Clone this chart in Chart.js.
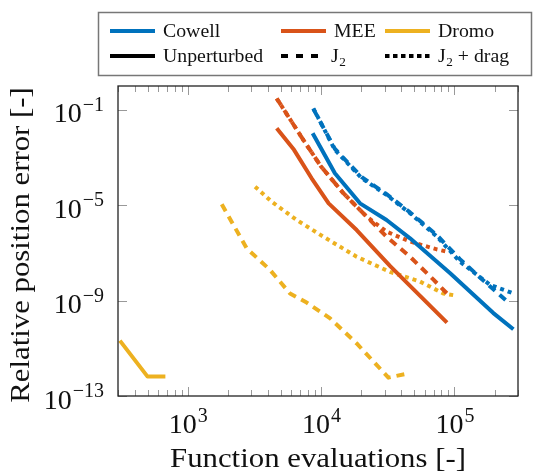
<!DOCTYPE html>
<html>
<head>
<meta charset="utf-8">
<script src="https://cdn.jsdelivr.net/npm/chart.js@4"></script>
<style>
  body { margin: 0; background: #fff; }
  #wrap { position: relative; width: 534px; height: 475px; }
</style>
</head>
<body>
<div id="wrap">
  <canvas id="chart"></canvas>
</div>
<script>
// Colours (MATLAB default palette)
const BLUE = '#0072BD', ORANGE = '#D95319', YELLOW = '#EDB120';

// Cowell
const cowellUnpX = [8650, 12700, 19600, 31000, 46500, 93000, 196000, 277000];
const cowellUnpY = [1.05e-2, 2.2e-4, 1.2e-5, 2.4e-6, 4.1e-7, 1.4e-8, 3.0e-10, 6.3e-11];
const cowellJ2X = [8750, 12700, 20200, 31000, 46500, 74000, 110000, 170000, 245000];
const cowellJ2Y = [0.11, 2.3e-3, 1.5e-4, 2.9e-5, 5.0e-6, 5.5e-7, 5.5e-8, 6e-9, 1.0e-9];
const cowellDragX = [8750, 12700, 20200, 31000, 46500, 74000, 110000, 185000, 277000];
const cowellDragY = [0.116, 2.1e-3, 1.35e-4, 2.7e-5, 4.6e-6, 4.8e-7, 4.3e-8, 4.6e-9, 2.0e-9];

// MEE
const meeUnpX = [4650, 6270, 8500, 11400, 18500, 33000, 88000];
const meeUnpY = [1.7e-2, 2.1e-3, 1.35e-4, 1.2e-5, 9.1e-7, 2.8e-8, 1.2e-10];
const meeJ2X = [4650, 7360, 10000, 14700, 22000, 31000, 46500, 70000, 88000];
const meeJ2Y = [0.3, 5.5e-3, 4.2e-4, 3.2e-5, 3.3e-6, 4.8e-7, 6.9e-8, 7.4e-9, 2.0e-9];
const meeDragX = [4650, 7360, 10000, 14700, 22000, 31000, 46500, 74000, 90000];
const meeDragY = [0.3, 5.5e-3, 4.2e-4, 3.2e-5, 3.3e-6, 7.8e-7, 3.0e-7, 1.4e-7, 1.1e-7];

// Dromo
const dromoUnpX = [310, 500, 680];
const dromoUnpY = [2.1e-11, 6.5e-13, 6.5e-13];
const dromoJ2X = [1800, 2770, 4140, 5850, 7800, 11700, 18500, 32000, 42700];
const dromoJ2Y = [1.1e-5, 1.55e-7, 1.95e-8, 2.0e-9, 8.3e-10, 1.8e-10, 1.6e-11, 5.9e-13, 8.3e-13];
const dromoDragX = [3200, 4270, 6560, 10400, 18500, 32900, 55200, 82600, 98000];
const dromoDragY = [6.0e-5, 1.4e-5, 2.4e-6, 4.8e-7, 6.9e-8, 1.6e-8, 6.3e-9, 2.0e-9, 1.7e-9];

// axis ticks
const xMajor = [1e3, 1e4, 1e5];
const yMajor = [1e-1, 1e-5, 1e-9, 1e-13];

const DASHED = [8, 6], DOTTED = [4, 4];

function pts(xs, ys) { return xs.map((x, i) => ({ x: x, y: ys[i] })); }
function series(label, xs, ys, color, dash) {
  return {
    label: label, data: pts(xs, ys), borderColor: color, backgroundColor: color,
    borderWidth: 4, borderDash: dash || [], pointRadius: 0, showLine: true,
    tension: 0, borderCapStyle: 'butt', borderJoinStyle: 'round'
  };
}

const FONT = '"Liberation Serif", serif';

// legend entries: colour = method, dash = perturbation model
const legendRows = [
  [
    { text: 'Cowell', color: BLUE, dash: [], x: 110 },
    { text: 'MEE', color: ORANGE, dash: [], x: 281 },
    { text: 'Dromo', color: YELLOW, dash: [], x: 385 }
  ],
  [
    { text: 'Unperturbed', color: '#000', dash: [], x: 110 },
    { text: 'J', sub: '2', color: '#000', dash: [7, 8], x: 281, len: 39, gap: 11 },
    { text: 'J', sub: '2', after: ' + drag', color: '#000', dash: [4.5, 3.5], x: 385 }
  ]
];

function drawLegend(ctx) {
  ctx.save();
  ctx.fillStyle = '#fff';
  ctx.fillRect(98, 12, 434, 64);
  ctx.strokeStyle = '#777';
  ctx.lineWidth = 1.5;
  ctx.strokeRect(98.5, 12.5, 433, 63);
  const rowsY = [31, 56];
  legendRows.forEach((row, r) => {
    const y = rowsY[r];
    row.forEach(it => {
      const len = it.len || 45;
      ctx.strokeStyle = it.color;
      ctx.lineWidth = 4;
      ctx.setLineDash(it.dash);
      ctx.beginPath();
      ctx.moveTo(it.x, y); ctx.lineTo(it.x + len, y);
      ctx.stroke();
      ctx.setLineDash([]);
      ctx.fillStyle = '#111';
      ctx.textAlign = 'left';
      ctx.textBaseline = 'alphabetic';
      let tx = it.x + len + (it.gap || 8);
      ctx.save();
      ctx.translate(tx, y + 6);
      ctx.scale(1.1, 1);
      ctx.font = '18px ' + FONT;
      ctx.fillText(it.text, 0, 0);
      let cx = ctx.measureText(it.text).width;
      if (it.sub) {
        ctx.font = '12px ' + FONT;
        ctx.fillText(it.sub, cx + 0.5, 4);
        cx += ctx.measureText(it.sub).width + 0.5;
      }
      if (it.after) {
        ctx.font = '18px ' + FONT;
        ctx.fillText(it.after, cx, 0);
      }
      ctx.restore();
    });
  });
  ctx.restore();
}

const axisPlugin = {
  id: 'axisPlugin',
  afterDraw(chart) {
    const ctx = chart.ctx, a = chart.chartArea;
    const xs = chart.scales.x, ys = chart.scales.y;
    ctx.save();
    // tick marks, inside on all sides
    ctx.strokeStyle = '#999';
    ctx.lineWidth = 1;
    ctx.beginPath();
    for (let d = 100; d <= 1e5; d *= 10) {
      for (let m = 1; m <= 9; m++) {
        const v = d * m;
        if (v < 300 || v > 300000) continue;
        const px = Math.round(xs.getPixelForValue(v)) + 0.5;
        const len = m === 1 ? 9 : 6;
        ctx.moveTo(px, a.bottom); ctx.lineTo(px, a.bottom - len);
        ctx.moveTo(px, a.top); ctx.lineTo(px, a.top + len);
      }
    }
    yMajor.forEach(v => {
      const py = Math.round(ys.getPixelForValue(v)) + 0.5;
      ctx.moveTo(a.left, py); ctx.lineTo(a.left + 9, py);
      ctx.moveTo(a.right, py); ctx.lineTo(a.right - 9, py);
    });
    ctx.stroke();
    // frame
    ctx.strokeStyle = '#222';
    ctx.lineWidth = 1.3;
    ctx.strokeRect(a.left, a.top, a.right - a.left, a.bottom - a.top);

    // tick labels 10^n
    ctx.fillStyle = '#111';
    ctx.textBaseline = 'alphabetic';
    const big = '28px ' + FONT, small = '20px ' + FONT;
    xMajor.forEach(v => {
      const e = String(Math.round(Math.log10(v)));
      ctx.font = big; const w1 = ctx.measureText('10').width;
      ctx.font = small; const w2 = ctx.measureText(e).width;
      const px = xs.getPixelForValue(v), x0 = px - (w1 + w2) / 2;
      ctx.textAlign = 'left';
      ctx.font = big; ctx.fillText('10', x0, 433);
      ctx.font = small; ctx.fillText(e, x0 + w1 + 1, 422);
    });
    yMajor.forEach(v => {
      const e = '\u2212' + String(-Math.round(Math.log10(v)));
      const py = ys.getPixelForValue(v);
      ctx.font = small; const w2 = ctx.measureText(e).width;
      ctx.textAlign = 'right';
      ctx.fillText(e, 104, py + 1);
      ctx.font = big; ctx.fillText('10', 104 - w2 - 1, py + 12.5);
    });

    // axis titles (stretched a little to match the wider original face)
    ctx.font = '28px ' + FONT;
    ctx.textAlign = 'center';
    ctx.save();
    ctx.translate((a.left + a.right) / 2, 467);
    ctx.scale(1.1, 1);
    ctx.fillText('Function evaluations [-]', 0, 0);
    ctx.restore();
    ctx.translate(29, (a.top + a.bottom) / 2 + 4);
    ctx.rotate(-Math.PI / 2);
    ctx.scale(1.1, 1);
    ctx.fillText('Relative position error [-]', 0, 0);
    ctx.restore();

    drawLegend(ctx);
  }
};

new Chart(document.getElementById('chart'), {
  type: 'scatter',
  data: {
    datasets: [
      series('Cowell unperturbed', cowellUnpX, cowellUnpY, BLUE),
      series('MEE unperturbed', meeUnpX, meeUnpY, ORANGE),
      series('Dromo unperturbed', dromoUnpX, dromoUnpY, YELLOW),
      series('Cowell J2', cowellJ2X, cowellJ2Y, BLUE, DASHED),
      series('MEE J2', meeJ2X, meeJ2Y, ORANGE, DASHED),
      series('Dromo J2', dromoJ2X, dromoJ2Y, YELLOW, DASHED),
      series('Cowell J2 + drag', cowellDragX, cowellDragY, BLUE, DOTTED),
      series('MEE J2 + drag', meeDragX, meeDragY, ORANGE, DOTTED),
      series('Dromo J2 + drag', dromoDragX, dromoDragY, YELLOW, DOTTED)
    ]
  },
  options: {
    responsive: true,
    maintainAspectRatio: false,
    animation: false,
    layout: { padding: { left: 0, top: 86, right: 16, bottom: 0 } },
    scales: {
      x: {
        type: 'logarithmic', min: 300, max: 300000,
        ticks: { display: false }, grid: { display: false }, border: { display: false },
        afterFit: s => { s.height = 79; }
      },
      y: {
        type: 'logarithmic', min: 1e-13, max: 1,
        ticks: { display: false }, grid: { display: false }, border: { display: false },
        afterFit: s => { s.width = 118; }
      }
    },
    plugins: { legend: { display: false }, tooltip: { enabled: false } }
  },
  plugins: [axisPlugin]
});
</script>
</body>
</html>
